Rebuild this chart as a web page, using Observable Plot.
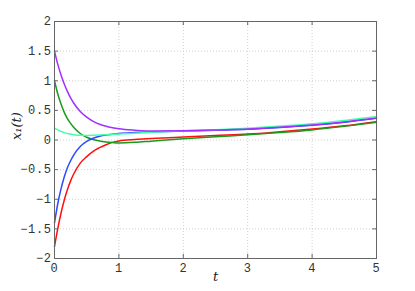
<!DOCTYPE html>
<html>
<head>
<meta charset="utf-8">
<script src="https://cdn.jsdelivr.net/npm/d3@7"></script>
<script src="https://cdn.jsdelivr.net/npm/@observablehq/plot@0.6"></script>
<style>
  html, body { margin: 0; padding: 0; background: #fff; }
  #chart .tk text { letter-spacing: 0.6px; }
</style>
</head>
<body>
<div id="chart"></div>
<script>
const tValues = [0, 0.05, 0.1, 0.15, 0.2, 0.25, 0.3, 0.4, 0.5, 0.6, 0.7, 0.8, 0.9, 1.0, 1.25, 1.5, 2, 2.5, 3, 3.5, 4, 4.5, 5];
const purple = [1.5, 1.28, 1.10, 0.95, 0.82, 0.71, 0.62, 0.48, 0.385, 0.315, 0.266, 0.232, 0.208, 0.19, 0.165, 0.15, 0.155, 0.17, 0.185, 0.215, 0.255, 0.305, 0.37];
const green  = [1.0, 0.78, 0.61, 0.47, 0.36, 0.28, 0.21, 0.11, 0.046, 0.007, -0.018, -0.033, -0.043, -0.05, -0.04, -0.02, 0.02, 0.055, 0.087, 0.125, 0.17, 0.23, 0.30];
const cyan   = [0.2, 0.17, 0.145, 0.125, 0.11, 0.10, 0.09, 0.08, 0.078, 0.08, 0.085, 0.09, 0.095, 0.10, 0.115, 0.13, 0.155, 0.175, 0.20, 0.235, 0.275, 0.33, 0.395];
const blue   = [-1.4, -1.08, -0.83, -0.63, -0.47, -0.35, -0.25, -0.11, -0.025, 0.03, 0.064, 0.085, 0.098, 0.11, 0.125, 0.135, 0.15, 0.165, 0.18, 0.21, 0.25, 0.30, 0.365];
const red    = [-1.8, -1.5, -1.24, -1.02, -0.84, -0.69, -0.57, -0.39, -0.28, -0.19, -0.13, -0.08, -0.04, -0.015, 0.01, 0.025, 0.05, 0.075, 0.10, 0.14, 0.185, 0.24, 0.31];

const seriesNames = ["s-red", "s-green", "s-blue", "s-cyan", "s-purple"];
const seriesValues = [red, green, blue, cyan, purple];
const seriesColors = ["#ff1010", "#1a9a1a", "#2a4cff", "#44ffaa", "#a030ff"];

const xTicks = [0, 1, 2, 3, 4, 5];
const yTicks = [-2, -1.5, -1, -0.5, 0, 0.5, 1, 1.5, 2];
const xLabel = "t";
const yLabel = "x\u2081(t)";

const rows = [];
seriesNames.forEach((name, i) => {
  tValues.forEach((t, j) => rows.push({series: name, t, v: seriesValues[i][j]}));
});

const fmt = d => (d < 0 ? "\u2212" : "") + Math.abs(d);
const mono = "Liberation Mono";
const serif = "DejaVu Serif";

const chart = Plot.plot({
  width: 415,
  height: 291,
  marginLeft: 54,
  marginRight: 39,
  marginTop: 21,
  marginBottom: 33,
  style: {fontFamily: mono, fontSize: "12px", background: "#fff", color: "#333"},
  x: {domain: [0, 5], label: null},
  y: {domain: [-2, 2], label: null},
  color: {domain: seriesNames, range: seriesColors},
  marks: [
    Plot.gridX(xTicks.slice(1, -1), {stroke: "#d0d0d0", strokeOpacity: 1, strokeDasharray: "1,2"}),
    Plot.gridY(yTicks.slice(1, -1), {stroke: "#d0d0d0", strokeOpacity: 1, strokeDasharray: "1,2"}),
    Plot.axisX(xTicks, {tickSize: 0, tickPadding: 5, tickFormat: fmt, className: "tk", fill: "#333", label: null}),
    Plot.axisY(yTicks, {tickSize: 0, tickPadding: 3, tickFormat: fmt, className: "tk", fill: "#333", label: null}),
    Plot.ruleX(xTicks, {y1: -2, y2: -1.93, stroke: "#666"}),
    Plot.ruleX(xTicks, {y1: 2, y2: 1.93, stroke: "#666"}),
    Plot.ruleY(yTicks, {x1: 0, x2: 0.06, stroke: "#666"}),
    Plot.ruleY(yTicks, {x1: 5, x2: 4.94, stroke: "#666"}),
    Plot.line(rows, {x: "t", y: "v", z: "series", stroke: "series", strokeWidth: 1.5, curve: "monotone-x"}),
    Plot.frame({stroke: "#666", strokeWidth: 1}),
    Plot.text([xLabel], {frameAnchor: "bottom", dy: 22, fontFamily: serif, fontStyle: "italic", fontSize: 13, fill: "#222"}),
    Plot.text([yLabel], {frameAnchor: "left", dx: -38, rotate: -90, fontFamily: serif, fontStyle: "italic", fontSize: 13, fill: "#222"})
  ]
});
document.getElementById("chart").appendChild(chart);
</script>
</body>
</html>
